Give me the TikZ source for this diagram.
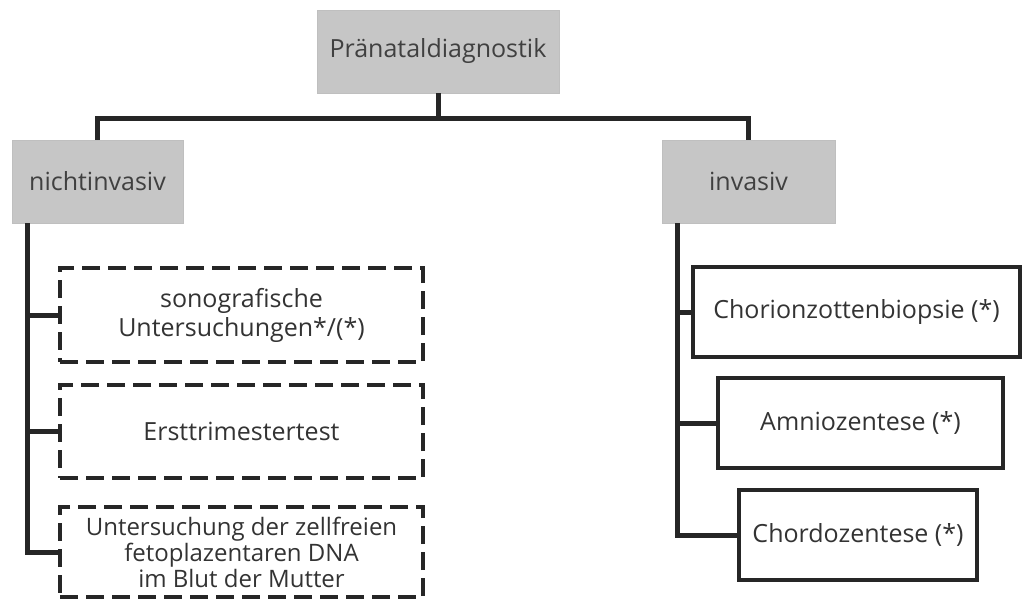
\documentclass[tikz,border=0pt]{standalone}
\usepackage{fontspec}
\setmainfont{Open Sans}
\usetikzlibrary{positioning}

\begin{document}
\begin{tikzpicture}[x=1pt,y=-1pt,
	head/.style={shape=rectangle,fill=gray!45,draw=gray!50,line width=0.6pt,text=black!75,font=\fontsize{25}{28}\selectfont},
	dbox/.style={shape=rectangle,draw=black!85,line width=4.4pt,dash pattern=on 18pt off 8pt,text=black!80,align=center,font=\fontsize{25}{29}\selectfont},
	sbox/.style={shape=rectangle,draw=black!85,line width=4.4pt,text=black!80,align=center,font=\fontsize{25}{28}\selectfont},
	bus/.style={-,line width=5pt,black!85}]
		\useasboundingbox (0,0) rectangle (1022,600);

		\node[head,minimum width=242pt,minimum height=83pt] (P) at (438,51.5){Pränataldiagnostik};
		\node[head,minimum width=171pt,minimum height=83pt] (N) at (97.5,181.5){nichtinvasiv};
		\node[head,minimum width=173pt,minimum height=83pt] (I) at (748.5,181.5){invasiv};

		\node[dbox,minimum width=363pt,minimum height=94pt] (S) at (241.5,315){sonografische\\Untersuchungen*/(*)};
		\node[dbox,minimum width=363pt,minimum height=93pt] (E) at (241.5,431.5){Ersttrimestertest};
		\node[dbox,minimum width=363pt,minimum height=90pt,inner sep=1pt,font=\fontsize{24}{26}\selectfont] (D) at (241.5,552){Untersuchung der zellfreien\\fetoplazentaren DNA\\im Blut der Mutter};

		\node[sbox,minimum width=327pt,minimum height=90pt] (C) at (856.5,312){Chorionzottenbiopsie (*)};
		\node[sbox,minimum width=285pt,minimum height=90pt] (A) at (860.5,423){Amniozentese (*)};
		\node[sbox,minimum width=238pt,minimum height=90pt] (Z) at (858,535){Chordozentese (*)};

		\coordinate (hub) at (438,118);
		\coordinate (lbus) at (27,0);
		\coordinate (rbus) at (677,0);

		\path [bus] (P.south) edge (hub);
		\draw [bus] (N.north) |- (hub) -| (I.north);

		\draw [bus] (N.south -| lbus) -- (lbus |- D.west) -- (D.west);
		\path [bus] (lbus |- S.west) edge (S.west);
		\path [bus] (lbus |- E.west) edge (E.west);

		\draw [bus] (I.south -| rbus) -- (rbus |- Z.west) -- (Z.west);
		\path [bus] (rbus |- C.west) edge (C.west);
		\path [bus] (rbus |- A.west) edge (A.west);
\end{tikzpicture}
\end{document}
